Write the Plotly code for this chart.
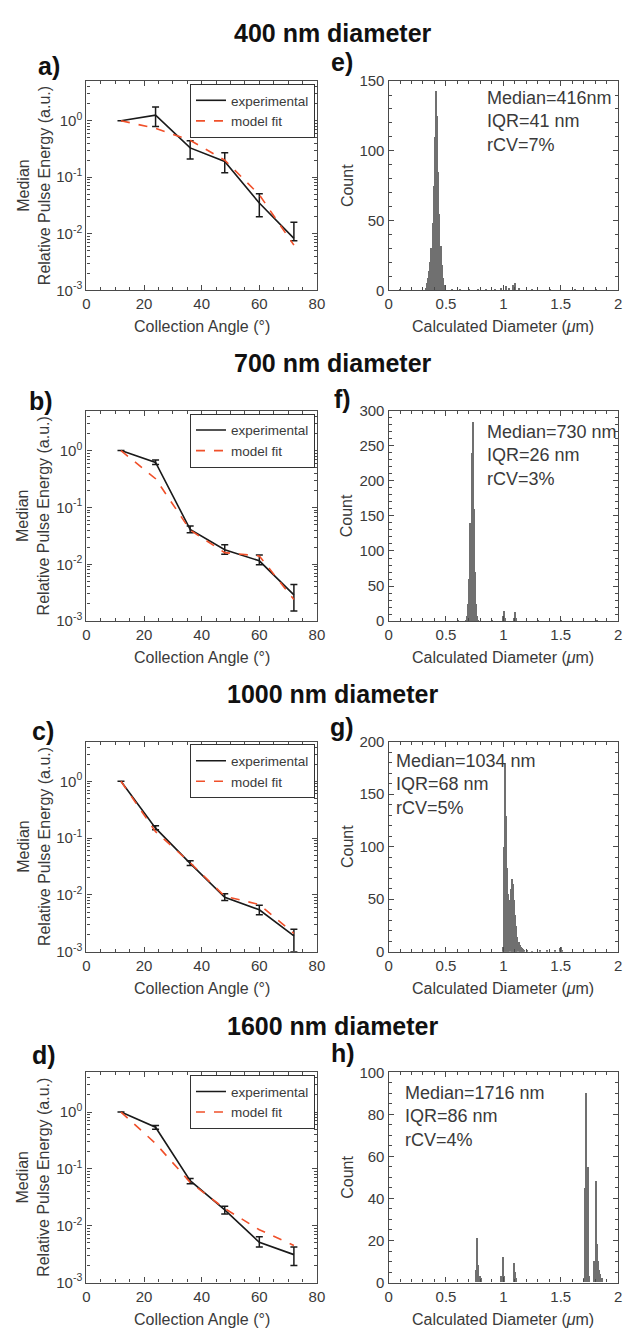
import plotly.graph_objects as go

# ---------------- data ----------------
angles = [12, 24, 36, 48, 60, 72]

exp_400 = [1.0, 1.25, 0.33, 0.19, 0.035, 0.0083]
hi_400 = [1.0, 1.74, 0.44, 0.27, 0.051, 0.016]
lo_400 = [1.0, 0.79, 0.21, 0.12, 0.020, 0.0075]
fit_400 = [1.0, 0.73, 0.45, 0.20, 0.049, 0.0063]

exp_700 = [1.0, 0.62, 0.041, 0.018, 0.0115, 0.0029]
hi_700 = [1.0, 0.68, 0.047, 0.022, 0.0145, 0.0044]
lo_700 = [1.0, 0.57, 0.036, 0.015, 0.0098, 0.0015]
fit_700 = [1.0, 0.32, 0.040, 0.016, 0.014, 0.0024]

exp_1000 = [1.0, 0.15, 0.036, 0.0091, 0.0055, 0.0019]
hi_1000 = [1.0, 0.165, 0.040, 0.0105, 0.0066, 0.0025]
lo_1000 = [1.0, 0.14, 0.033, 0.0080, 0.0045, 0.0010]
fit_1000 = [1.0, 0.13, 0.037, 0.0095, 0.0068, 0.0021]

exp_1600 = [1.0, 0.54, 0.062, 0.019, 0.0051, 0.0031]
hi_1600 = [1.0, 0.58, 0.068, 0.022, 0.0064, 0.0042]
lo_1600 = [1.0, 0.50, 0.055, 0.016, 0.0042, 0.0020]
fit_1600 = [1.0, 0.28, 0.058, 0.020, 0.0085, 0.0045]

log_tickvals = [0.001, 0.01, 0.1, 1]
log_ticktext = ["10<sup>-3</sup>", "10<sup>-2</sup>", "10<sup>-1</sup>", "10<sup>0</sup>"]

# histogram bins (diameter in um) and counts
d_400 = [0.10, 0.32, 0.33, 0.34, 0.35, 0.36, 0.37, 0.38, 0.39, 0.40, 0.41, 0.42, 0.43,
         0.44, 0.45, 0.46, 0.47, 0.48, 0.49, 0.55, 0.62, 0.70, 0.78, 0.85, 0.92, 0.98,
         1.02, 1.05, 1.08, 1.10, 1.13, 1.25, 1.40, 1.62, 1.80]
c_400 = [1, 2, 5, 9, 14, 20, 30, 48, 75, 110, 143, 125, 85,
         55, 32, 18, 9, 4, 2, 1, 1, 1, 1, 1, 1, 2,
         3, 2, 4, 5, 2, 1, 1, 1, 1]

d_700 = [0.60, 0.67, 0.68, 0.69, 0.70, 0.71, 0.72, 0.73, 0.74, 0.75, 0.76, 0.77, 0.78,
         0.90, 0.99, 1.00, 1.01, 1.09, 1.10, 1.11, 1.30, 1.50, 1.81]
c_700 = [1, 2, 8, 25, 60, 140, 240, 285, 160, 70, 25, 8, 2,
         1, 8, 15, 5, 5, 13, 4, 1, 1, 2]

d_1000 = [0.99, 1.00, 1.01, 1.02, 1.03, 1.04, 1.05, 1.06, 1.07, 1.08, 1.09, 1.10, 1.11,
          1.12, 1.13, 1.14, 1.15, 1.16, 1.17, 1.18, 1.20, 1.25, 1.32, 1.38, 1.45, 1.49,
          1.50, 1.51]
c_1000 = [5, 100, 180, 130, 80, 55, 50, 60, 70, 65, 50, 35, 25,
          15, 10, 7, 5, 4, 3, 2, 2, 1, 2, 2, 2, 4,
          5, 2]

d_1600 = [0.76, 0.77, 0.78, 0.79, 0.80, 0.98, 0.99, 1.00, 1.09, 1.10, 1.11, 1.70, 1.71,
          1.72, 1.73, 1.74, 1.79, 1.80, 1.81, 1.82, 1.83, 1.84, 1.86]
c_1600 = [6, 21, 8, 3, 2, 3, 12, 3, 9, 5, 2, 2, 45,
          90, 55, 3, 10, 48, 18, 10, 6, 4, 2]

stats = ["Median=416nm<br>IQR=41 nm<br>rCV=7%",
         "Median=730 nm<br>IQR=26 nm<br>rCV=3%",
         "Median=1034 nm<br>IQR=68 nm<br>rCV=5%",
         "Median=1716 nm<br>IQR=86 nm<br>rCV=4%"]
titles = ["400 nm diameter", "700 nm diameter", "1000 nm diameter", "1600 nm diameter"]
left_letters = ["a)", "b)", "c)", "d)"]
right_letters = ["e)", "f)", "g)", "h)"]
hist_ymax = [150, 300, 200, 100]
hist_dtick = [50, 50, 50, 20]
hist_minor = [10, 10, 10, 5]

# ---------------- layout helpers ----------------
W, H = 633, 1333
FONT = "Liberation Sans, Arial, sans-serif"
TXT = "#3a3a3a"
AX = "#4a4a4a"
HIST = "#707070"
RED = "#f0502a"

def px_x(p):
    return p / W

def px_y(p):
    return 1 - p / H

left_x = (84, 319)
right_x = (392, 626)
rows = [(73, 285), (407, 620), (742, 955), (1077, 1290)]
title_y = [24, 359, 694, 1030]
left_letter_pos = [(46, 58), (38, 397), (40, 731), (41, 1060)]
right_letter_pos = [(345, 54), (345, 395), (345, 727), (346, 1057)]
stats_pos = [(490, 78), (490, 416), (398, 750), (407, 1086)]

series = [
    (exp_400, hi_400, lo_400, fit_400),
    (exp_700, hi_700, lo_700, fit_700),
    (exp_1000, hi_1000, lo_1000, fit_1000),
    (exp_1600, hi_1600, lo_1600, fit_1600),
]
hists = [(d_400, c_400), (d_700, c_700), (d_1000, c_1000), (d_1600, c_1600)]

minor_log = [k * 10 ** e for e in range(-3, 1) for k in range(2, 10)]
minor_log = [v for v in minor_log if v < 5.01]

fig = go.Figure()
layout = dict(
    width=W, height=H,
    margin=dict(l=0, r=0, t=0, b=0),
    paper_bgcolor="white", plot_bgcolor="white",
    font=dict(family=FONT, color=TXT, size=15),
    showlegend=True, bargap=0,
)
annotations = []

common_axis = dict(
    showline=True, linecolor=AX, linewidth=1.2, mirror="ticks",
    ticks="inside", ticklen=5, tickwidth=1, tickcolor=AX,
    showgrid=False, zeroline=False,
    tickfont=dict(family=FONT, size=15, color=TXT),
)

for i in range(4):
    top, bot = rows[i]
    li = 2 * i + 1
    ri = 2 * i + 2
    exp, hi, lo, fit = series[i]
    xa = "x" if li == 1 else f"x{li}"
    ya = "y" if li == 1 else f"y{li}"
    leg = "legend" if i == 0 else f"legend{i + 1}"
    err_plus = [h - v for h, v in zip(hi, exp)]
    err_minus = [v - l for v, l in zip(exp, lo)]
    fig.add_trace(go.Scatter(
        x=angles, y=exp, mode="lines", name="experimental",
        line=dict(color="#1a1a1a", width=1.6),
        error_y=dict(type="data", symmetric=False, array=err_plus, arrayminus=err_minus,
                     color="#1a1a1a", thickness=1.5, width=3.5),
        xaxis=xa, yaxis=ya, legend=leg))
    fig.add_trace(go.Scatter(
        x=angles, y=fit, mode="lines", name="model fit",
        line=dict(color=RED, width=1.6, dash="dash"),
        xaxis=xa, yaxis=ya, legend=leg))

    layout[f"xaxis{li}"] = dict(
        common_axis, domain=[px_x(left_x[0]), px_x(left_x[1])], anchor=ya,
        range=[0, 80], tickmode="linear", tick0=0, dtick=20,
        minor=dict(ticks="inside", ticklen=3, tickcolor=AX, dtick=5, tick0=0, showgrid=False))
    layout[f"yaxis{li}"] = dict(
        common_axis, domain=[px_y(bot), px_y(top)], anchor=xa, type="log",
        range=[-3, 0.7], tickmode="array", tickvals=log_tickvals, ticktext=log_ticktext,
        minor=dict(ticks="inside", ticklen=3, tickcolor=AX, tickvals=minor_log, showgrid=False))
    layout[leg] = dict(
        x=px_x(317), y=px_y(top + 3), xanchor="right", yanchor="top",
        bgcolor="white", bordercolor="#333333", borderwidth=1,
        font=dict(family=FONT, size=13.5, color=TXT), itemwidth=30,
        tracegroupgap=0, traceorder="normal")

    d, c = hists[i]
    xb = f"x{ri}"
    yb = f"y{ri}"
    fig.add_trace(go.Bar(
        x=d, y=c, width=0.01, marker=dict(color=HIST, line=dict(width=0)),
        showlegend=False, xaxis=xb, yaxis=yb))
    layout[f"xaxis{ri}"] = dict(
        common_axis, domain=[px_x(right_x[0]), px_x(right_x[1])], anchor=yb,
        range=[0, 2], tickmode="array", tickvals=[0, 0.5, 1, 1.5, 2],
        ticktext=["0", "0.5", "1", "1.5", "2"],
        minor=dict(ticks="inside", ticklen=3, tickcolor=AX, dtick=0.1, tick0=0, showgrid=False))
    layout[f"yaxis{ri}"] = dict(
        common_axis, domain=[px_y(bot), px_y(top)], anchor=xb,
        range=[0, hist_ymax[i]], tickmode="linear", tick0=0, dtick=hist_dtick[i],
        minor=dict(ticks="inside", ticklen=3, tickcolor=AX, dtick=hist_minor[i], tick0=0,
                   showgrid=False))

    annotations.append(dict(
        text=f"<b>{titles[i]}</b>", x=px_x(335), y=px_y(title_y[i]), xref="paper", yref="paper",
        xanchor="center", yanchor="middle", showarrow=False,
        font=dict(family=FONT, size=25, color="#111111")))
    lx, ly = left_letter_pos[i]
    annotations.append(dict(
        text=f"<b>{left_letters[i]}</b>", x=px_x(lx), y=px_y(ly), xref="paper", yref="paper",
        xanchor="center", yanchor="middle", showarrow=False,
        font=dict(family=FONT, size=25, color="#111111")))
    rx, ry = right_letter_pos[i]
    annotations.append(dict(
        text=f"<b>{right_letters[i]}</b>", x=px_x(rx), y=px_y(ry), xref="paper", yref="paper",
        xanchor="center", yanchor="middle", showarrow=False,
        font=dict(family=FONT, size=25, color="#111111")))
    sx, sy = stats_pos[i]
    annotations.append(dict(
        text=stats[i], x=px_x(sx), y=px_y(sy), xref="paper", yref="paper",
        xanchor="left", yanchor="top", align="left", showarrow=False,
        font=dict(family=FONT, size=18, color=TXT)))
    annotations.append(dict(
        text="Collection Angle (°)", x=px_x((left_x[0] + left_x[1]) / 2), y=px_y(bot + 37),
        xref="paper", yref="paper", xanchor="center", yanchor="middle", showarrow=False,
        font=dict(family=FONT, size=16, color=TXT)))
    annotations.append(dict(
        text="Calculated Diameter (<i>μ</i>m)", x=px_x((right_x[0] + right_x[1]) / 2),
        y=px_y(bot + 37), xref="paper", yref="paper", xanchor="center", yanchor="middle",
        showarrow=False, font=dict(family=FONT, size=16, color=TXT)))
    annotations.append(dict(
        text="Median<br>Relative Pulse Energy (a.u.)", x=px_x(30), y=px_y((top + bot) / 2),
        xref="paper", yref="paper", xanchor="center", yanchor="middle", textangle=-90,
        showarrow=False, font=dict(family=FONT, size=16, color=TXT)))
    annotations.append(dict(
        text="Count", x=px_x(350), y=px_y((top + bot) / 2),
        xref="paper", yref="paper", xanchor="center", yanchor="middle", textangle=-90,
        showarrow=False, font=dict(family=FONT, size=16, color=TXT)))

layout["annotations"] = annotations
fig.update_layout(**layout)
fig.write_html("out.html")
